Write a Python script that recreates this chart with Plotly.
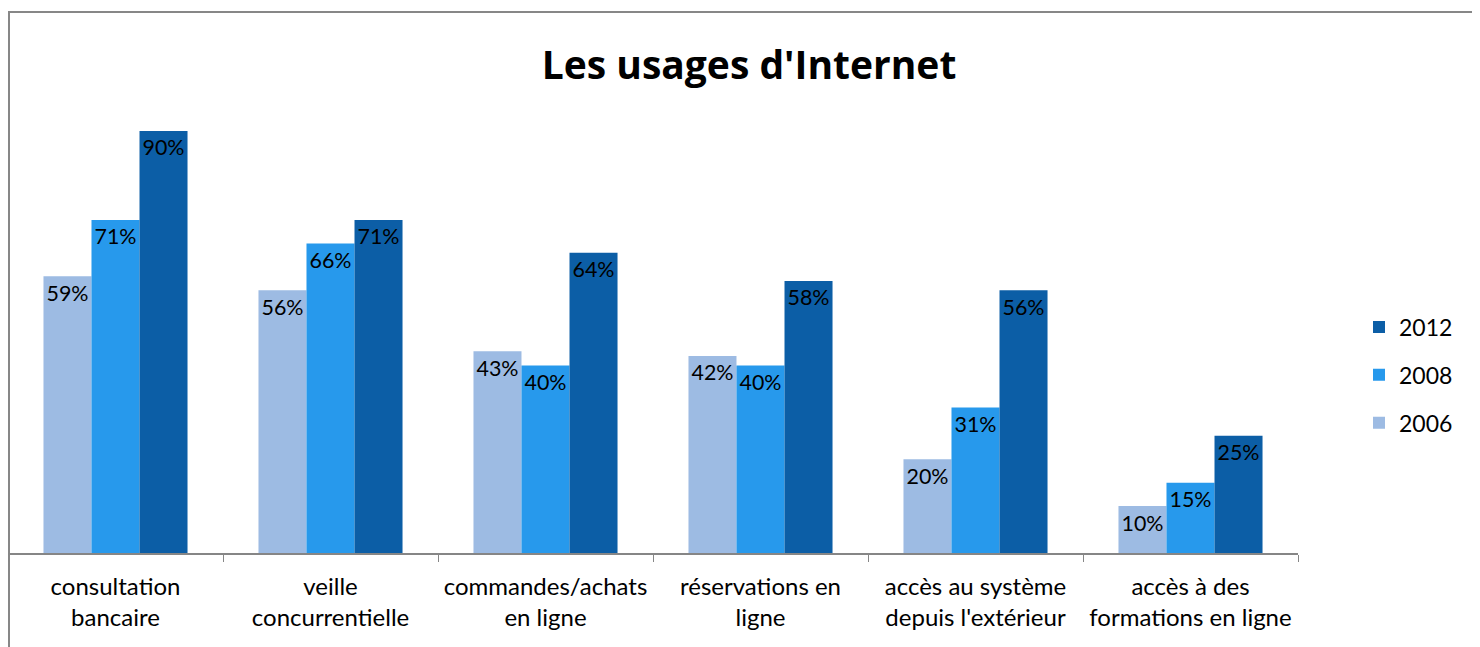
import plotly.graph_objects as go

categories = [
    "consultation<br>bancaire",
    "veille<br>concurrentielle",
    "commandes/achats<br>en ligne",
    "réservations en<br>ligne",
    "accès au système<br>depuis l'extérieur",
    "accès à des<br>formations en ligne",
]
years = ["2006", "2008", "2012"]
v2006 = [0.59, 0.56, 0.43, 0.42, 0.20, 0.10]
v2008 = [0.71, 0.66, 0.40, 0.40, 0.31, 0.15]
v2012 = [0.90, 0.71, 0.64, 0.58, 0.56, 0.25]
series = [v2006, v2008, v2012]
colors = ["#9dbbe3", "#2799ec", "#0c5ea6"]
ranks = [3, 2, 1]

FONT = "Lato, Carlito, Calibri, sans-serif"
TITLE_FONT = "Open Sans, sans-serif"

fig = go.Figure()
for name, vals, col, rk in zip(years, series, colors, ranks):
    fig.add_trace(go.Bar(
        x=categories, y=vals, name=name, legendgroup=name, legendrank=rk,
        marker=dict(color=col, line=dict(width=0)),
        text=[f"{round(v*100)}%" for v in vals],
        textposition="inside", insidetextanchor="end",
        textfont=dict(family=FONT, size=24, color="black"),
        insidetextfont=dict(family=FONT, size=24, color="black"),
        textangle=0,
        cliponaxis=False,
    ))

# body has an 8px default margin: figure coords = page coords - 8
W, H = 1472, 639
L, R, T, B = 0, 182, 76, 94
pw, ph = W - L - R, H - T - B

fig.update_layout(
    width=W, height=H,
    margin=dict(l=L, r=R, t=T, b=B, pad=0, autoexpand=False),
    paper_bgcolor="white", plot_bgcolor="white",
    barmode="group", bargap=0.33, bargroupgap=0,
    uniformtext=dict(mode=False),
    title=dict(text="<b>Les usages d'Internet</b>", x=741 / W, xref="container",
               xanchor="center", y=1 - 57 / H, yref="container", yanchor="middle",
               font=dict(family=TITLE_FONT, size=39, color="black")),
    legend=dict(traceorder="grouped", tracegroupgap=15,
                x=1351 / W, xref="container", xanchor="left",
                y=1 - 367 / H, yref="container", yanchor="middle",
                font=dict(family=FONT, size=23, color="black"),
                bgcolor="rgba(0,0,0,0)", itemwidth=30),
    xaxis=dict(showline=True, linecolor="#868686", linewidth=1.5,
               ticks="outside", tickson="boundaries", ticklen=7, tickcolor="#868686",
               tickfont=dict(family=FONT, size=24, color="black"),
               tickangle=0, automargin=False,
               ticklabelstandoff=11,
               showgrid=False, fixedrange=True),
    yaxis=dict(range=[0, 1], visible=False, showgrid=False, fixedrange=True,
               automargin=False),
    font=dict(family=FONT),
)

# outer chart frame (decoration)
fig.add_shape(type="rect", xref="paper", yref="paper",
              x0=1 / pw, x1=(W + 20 - L) / pw,
              y0=-(H + 20 - T - ph) / ph, y1=(T + ph - 4) / ph,
              line=dict(color="#878787", width=2), fillcolor="rgba(0,0,0,0)",
              layer="below")

fig.write_html("out.html")
